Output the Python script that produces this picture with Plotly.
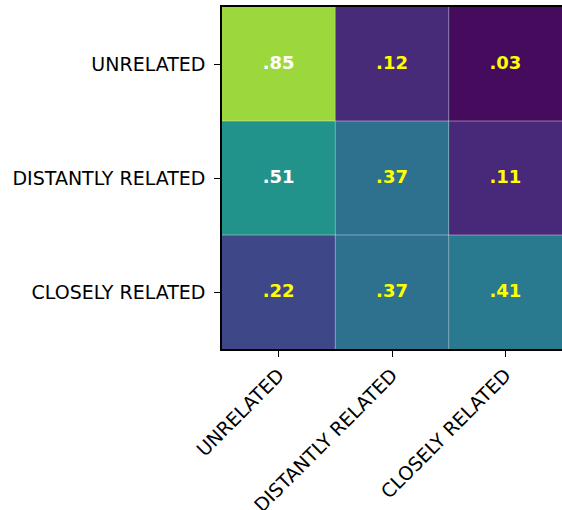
import plotly.graph_objects as go

# Relationship categories (rows = true relation, columns = predicted relation)
categories = ["UNRELATED", "DISTANTLY RELATED", "CLOSELY RELATED"]
row_unrelated = [0.85, 0.12, 0.03]
row_distant = [0.51, 0.37, 0.11]
row_close = [0.22, 0.37, 0.41]
label_colors = [
    ["white", "yellow", "yellow"],
    ["white", "yellow", "yellow"],
    ["yellow", "yellow", "yellow"],
]

z = [row_unrelated, row_distant, row_close]

fig = go.Figure()
fig.add_trace(go.Heatmap(
    z=z,
    x=list(range(len(categories))),
    y=list(range(len(categories))),
    colorscale="Viridis",
    zmin=0, zmax=1,
    showscale=False,
    hoverinfo="skip",
))

# value labels
tx, ty, tt, tc = [], [], [], []
for i, row in enumerate(z):
    for j, v in enumerate(row):
        tx.append(j)
        ty.append(i)
        tt.append(f"{v:.2f}".lstrip("0"))
        tc.append(label_colors[i][j])
fig.add_trace(go.Scatter(
    x=tx, y=ty, text=tt, mode="text",
    textfont=dict(family="DejaVu Sans", size=18, color=tc, weight="bold"),
    hoverinfo="skip", showlegend=False,
))

# thin cell separators
n = len(categories)
for k in range(1, n):
    fig.add_shape(type="line", xref="x", yref="paper", x0=k - 0.5, x1=k - 0.5, y0=0, y1=1,
                  line=dict(color="rgba(255,255,255,0.4)", width=1))
    fig.add_shape(type="line", xref="paper", yref="y", x0=0, x1=1, y0=k - 0.5, y1=k - 0.5,
                  line=dict(color="rgba(255,255,255,0.4)", width=1))

axis_font = dict(family="DejaVu Sans", size=19, color="black")
fig.update_xaxes(
    tickvals=list(range(n)), ticktext=categories, tickangle=-45,
    range=[-0.5, n - 0.5], showgrid=False, zeroline=False,
    showline=True, linecolor="black", linewidth=1.5, mirror=True,
    ticks="outside", ticklen=6, tickwidth=1.2, tickcolor="black",
    tickfont=axis_font, automargin=False,
)
fig.update_yaxes(
    tickvals=list(range(n)), ticktext=categories,
    range=[n - 0.5, -0.5], showgrid=False, zeroline=False,
    showline=True, linecolor="black", linewidth=1.5,
    ticks="outside", ticklen=6, tickwidth=1.2, tickcolor="black",
    tickfont=axis_font, ticklabelstandoff=5, automargin=False,
)
fig.update_layout(
    width=562, height=510,
    margin=dict(l=222, r=0, t=7, b=161),
    plot_bgcolor="white", paper_bgcolor="white",
    showlegend=False,
)
fig.write_html("out.html")
